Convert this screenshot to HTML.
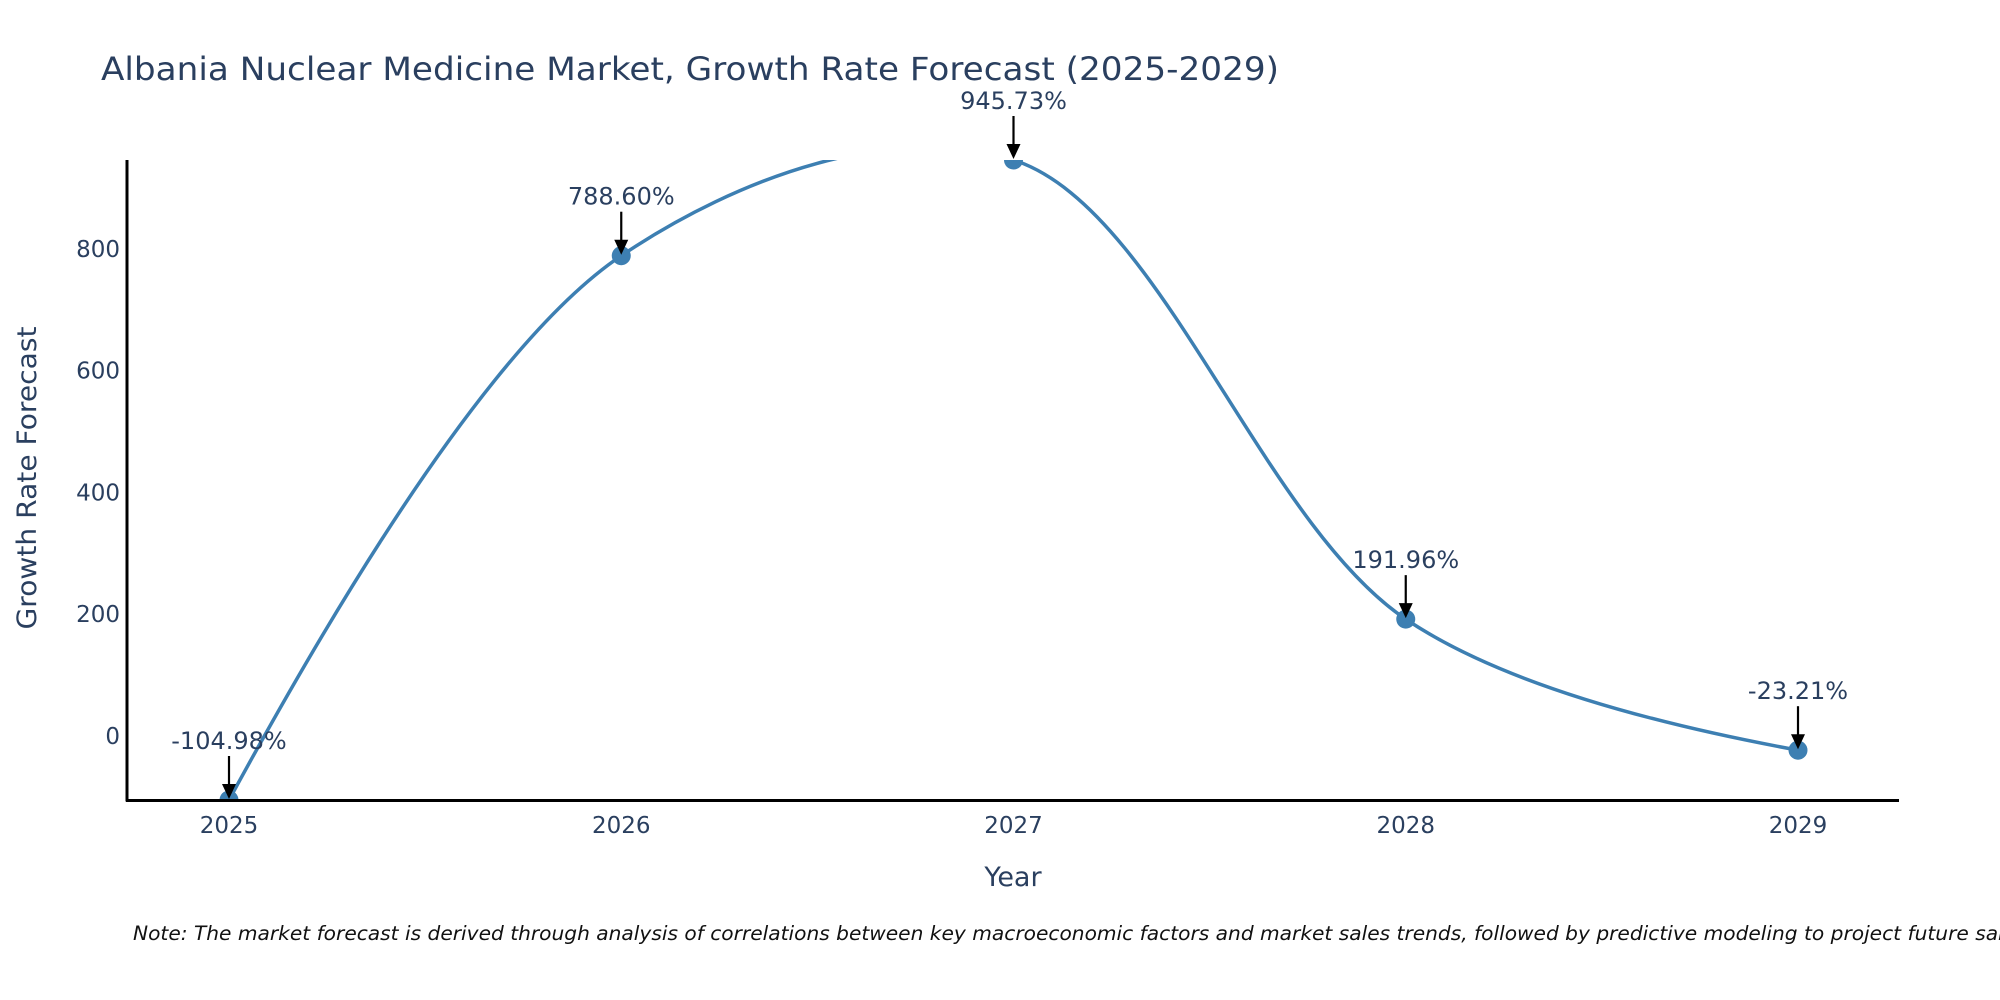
<!DOCTYPE html>
<html><head><meta charset="utf-8"><style>
html,body{margin:0;padding:0;background:#fff;width:2000px;height:1000px;overflow:hidden}
svg{display:block}
text{font-family:"DejaVu Sans","Liberation Sans",Arial,sans-serif;fill:#2a3f5f}
</style></head><body>
<svg id="chart" width="2000" height="1000" xmlns="http://www.w3.org/2000/svg">
<defs><clipPath id="plotclip"><rect x="127" y="160" width="1773" height="640"/></clipPath></defs>
<text x="101" y="80" font-size="32" textLength="1178" lengthAdjust="spacingAndGlyphs">Albania Nuclear Medicine Market, Growth Rate Forecast (2025-2029)</text>
<g id="yticks"></g>
<g id="xticks"></g>
<g clip-path="url(#plotclip)" id="series"></g>
<line x1="127" y1="160" x2="127" y2="801.5" stroke="#000" stroke-width="3"/>
<line x1="126" y1="800.5" x2="1899" y2="800.5" stroke="#000" stroke-width="3"/>
<g id="annots"></g>
<text transform="translate(36,478) rotate(-90)" text-anchor="middle" font-size="27" textLength="303" lengthAdjust="spacingAndGlyphs">Growth Rate Forecast</text>
<text x="1013" y="886" text-anchor="middle" font-size="27">Year</text>
<text x="133" y="940" font-size="19.5" font-style="italic" textLength="1900" lengthAdjust="spacingAndGlyphs" style="fill:#111">Note: The market forecast is derived through analysis of correlations between key macroeconomic factors and market sales trends, followed by predictive modeling to project future sales.</text>
</svg>
<script>
const years = [2025, 2026, 2027, 2028, 2029];
const growth = [-104.98, 788.60, 945.73, 191.96, -23.21];
const labels = ["-104.98%", "788.60%", "945.73%", "191.96%", "-23.21%"];
const yTicks = [0, 200, 400, 600, 800];

const NS = "http://www.w3.org/2000/svg";
const yMin = -104.98, yMax = 945.73, pyTop = 160, pyBot = 800;
function xs(v){ return 229 + (v - 2025) * 392.25; }
function ys(v){ return pyBot - (v - yMin) / (yMax - yMin) * (pyBot - pyTop); }
function mk(tag, attrs, parent){ const e = document.createElementNS(NS, tag); for (const k in attrs) e.setAttribute(k, attrs[k]); parent.appendChild(e); return e; }

const yg = document.getElementById('yticks');
yTicks.forEach(t => {
  const e = mk('text', {x:120, y:ys(t)+8, 'text-anchor':'end', 'font-size':23}, yg);
  
  
  e.textContent = t;
});
const xg = document.getElementById('xticks');
years.forEach(y => {
  const e = mk('text', {x:xs(y), y:833, 'text-anchor':'middle', 'font-size':23}, xg);
  
  
  e.textContent = y;
});

function makeTangent(p0, p1, p2, s){
  const d1x=p0[0]-p1[0], d1y=p0[1]-p1[1], d2x=p2[0]-p1[0], d2y=p2[1]-p1[1];
  const d1a=Math.pow(d1x*d1x+d1y*d1y,0.25), d2a=Math.pow(d2x*d2x+d2y*d2y,0.25);
  const nx=(d2a*d2a*d1x-d1a*d1a*d2x)*s, ny=(d2a*d2a*d1y-d1a*d1a*d2y)*s;
  const den1=3*d2a*(d1a+d2a), den2=3*d1a*(d1a+d2a);
  return [[p1[0]+nx/den1, p1[1]+ny/den1],[p1[0]-nx/den2, p1[1]-ny/den2]];
}
const pts = years.map((y,i)=>[xs(y), ys(growth[i])]);
const tg = [];
for (let i=1;i<pts.length-1;i++) tg.push(makeTangent(pts[i-1],pts[i],pts[i+1],1));
let d = 'M'+pts[0].join(',') + 'Q'+tg[0][0].join(',')+' '+pts[1].join(',');
for (let i=2;i<pts.length-1;i++) d += 'C'+tg[i-2][1].join(',')+' '+tg[i-1][0].join(',')+' '+pts[i].join(',');
d += 'Q'+tg[tg.length-1][1].join(',')+' '+pts[pts.length-1].join(',');

const sg = document.getElementById('series');
const line = mk('path', {d:d, fill:'none', stroke:'#3d7fb2', 'stroke-width':3.5}, sg);


pts.forEach(p => {
  const c = mk('circle', {cx:p[0], cy:p[1], r:9.5, fill:'#3d7fb2'}, sg);
  
  
});

const ag = document.getElementById('annots');
pts.forEach((p,i) => {
  const tip = p[1] - 1;
  const st = mk('line', {x1:p[0], y1:tip-43, x2:p[0], y2:tip-10, stroke:'#000', 'stroke-width':2.2}, ag);
  
  
  const hd = mk('path', {d:`M${p[0]-7},${tip-15}L${p[0]+7},${tip-15}L${p[0]},${tip}Z`, fill:'#000'}, ag);
  
  
  const t = mk('text', {x:p[0], y:tip-50, 'text-anchor':'middle', 'font-size':24}, ag);
  
  
  t.textContent = labels[i];
});
</script>
</body></html>
